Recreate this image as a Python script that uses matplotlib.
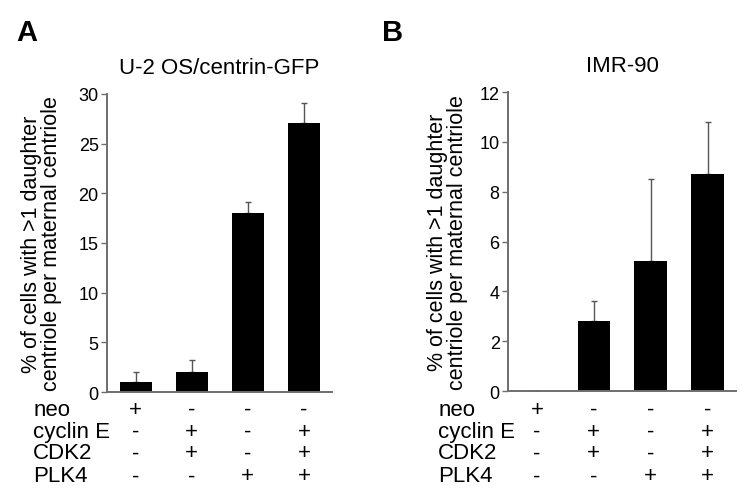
import matplotlib
matplotlib.use("Agg")
import matplotlib.pyplot as plt
from matplotlib.transforms import blended_transform_factory

plt.rcParams["font.family"] = ["Liberation Sans", "DejaVu Sans"]

# data
row_names = ["neo", "cyclin E", "CDK2", "PLK4"]
conditions = [
    ["+", "-", "-", "-"],
    ["-", "+", "-", "+"],
    ["-", "+", "-", "+"],
    ["-", "-", "+", "+"],
]
ylabel = "% of cells with >1 daughter\ncentriole per maternal centriole"

u2os_title = "U-2 OS/centrin-GFP"
u2os_mean = [1.0, 2.0, 18.0, 27.1]
u2os_err = [1.0, 1.2, 1.1, 2.0]
u2os_ticks = [0, 5, 10, 15, 20, 25, 30]

imr_title = "IMR-90"
imr_mean = [0.0, 2.8, 5.2, 8.7]
imr_err = [0.0, 0.8, 3.3, 2.1]
imr_ticks = [0, 2, 4, 6, 8, 10, 12]

axis_grey = "#6e6e6e"

fig = plt.figure(figsize=(7.54, 5.02), dpi=100)


def panel(rect, letter, letter_x, title, means, errs, ticks, ylab_x, row_x):
    ax = fig.add_axes(rect)
    xs = list(range(len(means)))
    ax.bar(xs, means, width=0.57, color="black", zorder=2)
    ax.errorbar(xs, means, yerr=[[0] * len(errs), errs], fmt="none",
                ecolor="#555555", elinewidth=1.0, capsize=2.5, capthick=1.0,
                zorder=1)
    ax.set_xlim(-0.51, 3.5)
    ax.set_ylim(ticks[0], ticks[-1])
    ax.set_yticks(ticks)
    ax.set_xticks([])
    for s in ["top", "right"]:
        ax.spines[s].set_visible(False)
    for s in ["left", "bottom"]:
        ax.spines[s].set_color(axis_grey)
        ax.spines[s].set_linewidth(1.4)
    ax.tick_params(axis="y", direction="out", length=4, width=1,
                   color=axis_grey, labelsize=13, pad=2)
    ax.set_title(title, fontsize=16, pad=15)
    ax.text(ylab_x, 0.5, ylabel, transform=ax.transAxes, rotation=90,
            ha="center", va="center", multialignment="center",
            fontsize=15.5, linespacing=0.92)
    fig.text(letter_x, 0.934, letter, fontsize=21, fontweight="bold",
             ha="left", va="center")

    # condition table under the bars
    trans = blended_transform_factory(ax.transData, fig.transFigure)
    row_y = [0.183, 0.139, 0.096, 0.050]
    for name, signs, y in zip(row_names, conditions, row_y):
        fig.text(row_x, y, name, fontsize=16, ha="left", va="center")
        for x, sign in zip(xs, signs):
            ax.text(x, y, sign, transform=trans, fontsize=16,
                    ha="center", va="center")
    return ax


panel([0.1419, 0.2171, 0.2984, 0.5937], "A", 0.022, u2os_title,
      u2os_mean, u2os_err, u2os_ticks, -0.29, 0.044)
panel([0.6737, 0.2191, 0.3024, 0.5956], "B", 0.506, imr_title,
      imr_mean, imr_err, imr_ticks, -0.265, 0.581)

fig.savefig("out.png", dpi=100)
